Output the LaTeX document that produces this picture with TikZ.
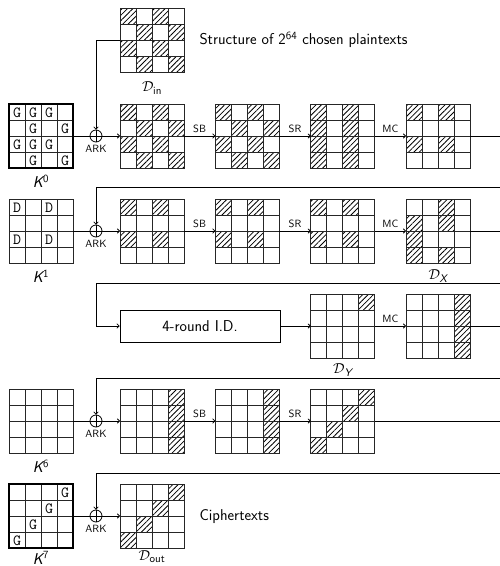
\documentclass[tikz,border=0pt]{standalone}
\usepackage{amsmath}
\usetikzlibrary{patterns.meta,arrows.meta}
\tikzset{
 gridnode/.style={draw=none, minimum size=64pt, inner sep=0pt, outer sep=0pt},
 gridline/.style={line width=0.8pt, draw=black!85},
 keyborder/.style={line width=2pt, draw=black},
 hatch/.style={pattern={Lines[angle=45,distance=3.8pt,line width=0.8pt]}},
 xorop/.style={circle, draw, minimum size=12pt, inner sep=0pt, line width=0.8pt},
 opl/.style={font=\fontsize{10.5}{12}\sffamily, inner sep=1pt},
 conn/.style={line width=0.8pt},
 arr/.style={conn, -{To[length=3pt,width=5pt]}},
 lbl/.style={font=\fontsize{15.7}{18}\sffamily},
 keytxt/.style={font=\fontsize{15.5}{15.5}\ttfamily, inner sep=0pt},
}
\newcommand{\hgrid}[4]{%
 \node[gridnode] (#1) at ({#2+32},{#3+32}) {};
 \foreach \r/\c in {#4} {\fill[hatch] ({#2+16*\c},{#3+16*\r}) rectangle ++(16,16);}
 \foreach \i in {1,2,3} {\draw[gridline] ({#2+16*\i},#3) -- ++(0,64); \draw[gridline] (#2,{#3+16*\i}) -- ++(64,0);}
 \draw[gridline] (#1.north west) rectangle (#1.south east);
}
\newcommand{\keygrid}[5]{%
 \node[gridnode] (#1) at ({#2+32},{#3+32}) {};
 \foreach \r/\c/\t in {#4} {\node[keytxt] (#1-\r-\c) at ({#2+16*\c+8},{#3+16*\r+8.5}) {\t};}
 \foreach \i in {1,2,3} {\draw[gridline] ({#2+16*\i},#3) -- ++(0,64); \draw[gridline] (#2,{#3+16*\i}) -- ++(64,0);}
 \draw[#5] (#1.north west) rectangle (#1.south east);
}
\newcommand{\xorat}[3]{%
 \node[xorop] (#1) at (#2,#3) {};
 \draw[conn] (#1.north) -- (#1.south) (#1.west) -- (#1.east);
 \node[opl] (#1-l) at (#2,{#3+13}) {ARK};
}
\newcommand{\kexp}[1]{{\slshape K}\textsuperscript{\fontsize{11}{12}\selectfont #1}}
\begin{document}
\begin{tikzpicture}[x=1pt,y=-1pt]
\useasboundingbox (0,0) rectangle (500,566);
% ---------- row 0: D_in
\hgrid{din}{120}{8}{0/0,0/2,1/1,1/3,2/0,2/2,3/1,3/3}
\node[lbl] (dinl) at (152,88) {$\mathcal{D}_{\textsf{in}}$};
\node[lbl, anchor=west] (struct) at (196,40) {Structure of 2\textsuperscript{64} chosen plaintexts};
% ---------- row 1
\keygrid{k0}{9}{104}{0/0/G,0/1/G,0/2/G,1/1/G,1/3/G,2/0/G,2/1/G,2/2/G,3/1/G,3/3/G}{keyborder}
\node[lbl] (k0l) at (41,181) {\kexp{0}};
\xorat{a0}{96}{136}
\hgrid{g1a}{120}{104}{0/0,0/2,1/1,1/3,2/0,2/2,3/1,3/3}
\hgrid{g1b}{215.33}{104}{0/0,0/2,1/1,1/3,2/0,2/2,3/1,3/3}
\hgrid{g1c}{310.67}{104}{0/0,1/0,2/0,3/0,0/2,1/2,2/2,3/2}
\hgrid{g1d}{406}{104}{0/0,0/2,2/0,2/2}
\draw[conn] (k0.east) -- (a0.west);
\draw[arr] (din.west) -| (a0.north);
\draw[arr] (a0.east) -- (g1a.west);
\draw[arr] (g1a.east) -- node[opl, above=2pt] (sb1) {SB} (g1b.west);
\draw[arr] (g1b.east) -- node[opl, above=2pt] (sr1) {SR} (g1c.west);
\draw[arr] (g1c.east) -- node[opl, above=2pt] (mc1) {MC} (g1d.west);
\coordinate (e1) at (500,136);
\draw[conn] (g1d.east) -- (e1);
% ---------- row 2
\coordinate (w2) at (500,187.5);
\keygrid{k1}{9}{199}{0/0/D,0/2/D,2/0/D,2/2/D}{gridline}
\node[lbl] (k1l) at (41,276) {\kexp{1}};
\xorat{a1}{96}{231}
\hgrid{g2a}{120}{199}{0/0,0/2,2/0,2/2}
\hgrid{g2b}{215.33}{199}{0/0,0/2,2/0,2/2}
\hgrid{g2c}{310.67}{199}{0/0,0/2,2/0,2/2}
\hgrid{g2d}{406}{199}{1/0,2/0,3/0,0/2,1/2,3/2}
\node[lbl] (dxl) at (438,276) {$\mathcal{D}_{\textsf{\slshape X}}$};
\draw[arr] (w2) -| (a1.north);
\draw[conn] (k1.east) -- (a1.west);
\draw[arr] (a1.east) -- (g2a.west);
\draw[arr] (g2a.east) -- node[opl, above=2pt] (sb2) {SB} (g2b.west);
\draw[arr] (g2b.east) -- node[opl, above=2pt] (sr2) {SR} (g2c.west);
\draw[arr] (g2c.east) -- node[opl, above=2pt] (mc2) {MC} (g2d.west);
\coordinate (e2) at (500,231);
\draw[conn] (g2d.east) -- (e2);
% ---------- row 3
\coordinate (w3) at (500,283);
\node[draw, conn, minimum width=160pt, minimum height=32pt, inner sep=0pt, lbl] (id) at (200,326) {4-round I.D.};
\hgrid{g3c}{310.67}{294}{0/3}
\hgrid{g3d}{406}{294}{0/3,1/3,2/3,3/3}
\node[lbl] (dyl) at (342.67,370) {$\mathcal{D}_{\textsf{\slshape Y}}$};
\draw[arr] (w3) -| (96,326) -- (id.west);
\draw[arr] (id.east) -- (g3c.west);
\draw[arr] (g3c.east) -- node[opl, above=2pt] (mc3) {MC} (g3d.west);
\coordinate (e3) at (500,326);
\draw[conn] (g3d.east) -- (e3);
% ---------- row 4
\coordinate (w4) at (500,378);
\keygrid{k6}{9}{389}{0/0/{}}{gridline}
\node[lbl] (k6l) at (41,466) {\kexp{6}};
\xorat{a6}{96}{421}
\hgrid{g4a}{120}{389}{0/3,1/3,2/3,3/3}
\hgrid{g4b}{215.33}{389}{0/3,1/3,2/3,3/3}
\hgrid{g4c}{310.67}{389}{0/3,1/2,2/1,3/0}
\draw[arr] (w4) -| (a6.north);
\draw[conn] (k6.east) -- (a6.west);
\draw[arr] (a6.east) -- (g4a.west);
\draw[arr] (g4a.east) -- node[opl, above=2pt] (sb4) {SB} (g4b.west);
\draw[arr] (g4b.east) -- node[opl, above=2pt] (sr4) {SR} (g4c.west);
\coordinate (e4) at (500,421);
\draw[conn] (g4c.east) -- (e4);
% ---------- row 5
\coordinate (w5) at (500,473);
\keygrid{k7}{9}{484}{0/3/G,1/2/G,2/1/G,3/0/G}{keyborder}
\node[lbl] (k7l) at (41,558) {\kexp{7}};
\xorat{a7}{96}{516}
\hgrid{dout}{120}{484}{0/3,1/2,2/1,3/0}
\node[lbl] (doutl) at (152,557) {$\mathcal{D}_{\textsf{out}}$};
\node[lbl, anchor=west] (ct) at (196,517) {Ciphertexts};
\draw[arr] (w5) -| (a7.north);
\draw[conn] (k7.east) -- (a7.west);
\draw[arr] (a7.east) -- (dout.west);
\end{tikzpicture}
\end{document}
